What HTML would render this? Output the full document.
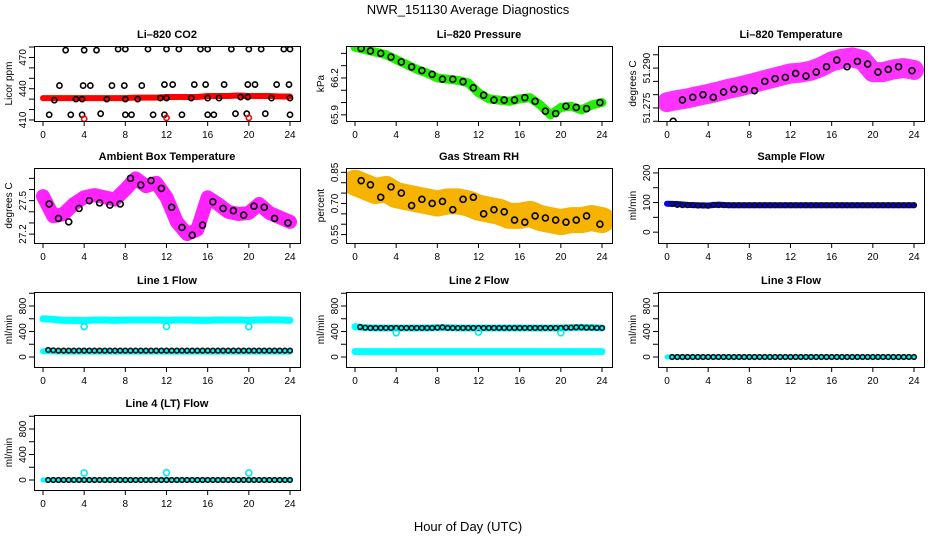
<!DOCTYPE html>
<html><head><meta charset="utf-8"><style>
body{margin:0;background:#fff}
svg{display:block;font-family:"Liberation Sans",sans-serif}
</style></head><body>
<svg id="c" width="936" height="540" viewBox="0 0 936 540">
<text x="468" y="14" text-anchor="middle" font-size="13">NWR_151130  Average Diagnostics</text>
<text x="468" y="531" text-anchor="middle" font-size="13">Hour of Day (UTC)</text>
</svg>
<script>
const hours=[0,1,2,3,4,5,6,7,8,9,10,11,12,13,14,15,16,17,18,19,20,21,22,23,24];
const tDots=[0.6,1.5,2.5,3.5,4.5,5.5,6.5,7.5,8.5,9.5,10.5,11.5,12.5,13.5,14.5,15.5,16.5,17.5,18.5,19.5,20.5,21.5,22.5,23.8];
const tDense=[0.5,1,1.5,2,2.5,3,3.5,4,4.5,5,5.5,6,6.5,7,7.5,8,8.5,9,9.5,10,10.5,11,11.5,12,12.5,13,13.5,14,14.5,15,15.5,16,16.5,17,17.5,18,18.5,19,19.5,20,20.5,21,21.5,22,22.5,23,23.5,24];
const tDips=[4,12,20];
const xTicks=[0,4,8,12,16,20,24];

const co2Band=[431,431,431,431,431,431,431,431,431,431.5,431.5,431.5,432,432,432,432,433,433,433,433.5,433,433,433,432.5,432.5];
const co2TopT=[2.2,4.0,5.2,7.3,8.0,10.2,12.0,13.2,15.3,16.0,18.3,20.0,21.2,23.4,24.0];
const co2TopV=[477,477,477,478,478,478,478,478,478,478,478,478,478,478,478];
const co2MidT=[1.6,3.9,4.6,6.7,7.9,9.6,11.8,12.6,14.7,15.8,17.6,19.9,20.6,22.7,23.9];
const co2MidV=[443,443,443,443,443,443,444,444,444,444,444,444,444,444,444];
const co2LowT=[1.1,3.2,3.8,6.2,8.0,9.2,11.4,12.0,14.4,16.0,17.1,19.2,19.9,22.2,24.0];
const co2LowV=[429,430,430,430,430,430,431,431,431,431,431,432,432,431,431];
const co2BotT=[0.6,2.7,3.8,5.6,8.0,8.6,10.7,11.8,13.5,16.0,16.6,18.7,19.8,21.6,24.0];
const co2BotV=[415,415,415,416,415,415,415,415,415,415,415,416,416,416,415];
const co2Red=[411,412,412];

const presBand=[66.45,66.43,66.41,66.39,66.35,66.31,66.27,66.24,66.2,66.19,66.18,66.16,66.08,66.03,66.02,66.01,66.03,66.04,65.98,65.9,65.96,65.97,65.94,65.98,66.0];
const presDots=[66.44,66.42,66.40,66.37,66.33,66.29,66.26,66.23,66.19,66.19,66.17,66.12,66.06,66.02,66.02,66.02,66.04,66.01,65.93,65.91,65.97,65.96,65.95,66.0];

const ltBand=[51.2772,51.2780,51.2786,51.2795,51.2803,51.2812,51.2822,51.2830,51.2840,51.2850,51.2860,51.2870,51.2880,51.2883,51.2890,51.2905,51.2925,51.2935,51.2940,51.2930,51.2885,51.2885,51.2895,51.2900,51.2893];
const ltDots=[51.2700,51.2780,51.2790,51.2800,51.2790,51.2810,51.2820,51.2820,51.2815,51.2850,51.2860,51.2865,51.2880,51.2870,51.2885,51.2905,51.2930,51.2905,51.2925,51.2915,51.2885,51.2895,51.2905,51.2890];

const ambBand=[27.54,27.36,27.38,27.47,27.53,27.55,27.53,27.51,27.6,27.70,27.63,27.66,27.53,27.31,27.2,27.24,27.53,27.47,27.40,27.38,27.39,27.47,27.39,27.35,27.31];
const ambDots=[27.47,27.34,27.31,27.43,27.50,27.48,27.46,27.47,27.70,27.64,27.68,27.61,27.44,27.26,27.19,27.28,27.49,27.43,27.41,27.37,27.45,27.44,27.34,27.30];

const rhBand=[0.80,0.78,0.76,0.77,0.74,0.73,0.72,0.71,0.70,0.71,0.71,0.70,0.68,0.67,0.66,0.64,0.64,0.65,0.63,0.62,0.61,0.62,0.62,0.63,0.62];
const rhDots=[0.81,0.79,0.73,0.78,0.75,0.69,0.72,0.70,0.71,0.67,0.72,0.73,0.65,0.67,0.66,0.62,0.61,0.64,0.63,0.62,0.61,0.62,0.64,0.60];

const sfBand=[96,95,92,91,90,93,91,91,91,91,91,91,91,91,91,91,91,91,91,91,91,91,91,91,91];
const sfDots=[95,92,91,91,91,90,90,89,92,91,91,91,91,91,91,91,91,91,91,91,91,91,91,91,91,91,91,91,91,91,91,91,91,91,91,91,91,91,91,91,91,91,91,91,91,91,91,91];

const l1Top=[600,590,575,575,570,580,580,575,580,580,580,580,575,580,580,575,575,580,580,580,575,580,585,580,575];
const l1Bot=[90,88,85,85,85,85,85,85,85,85,85,85,85,85,85,85,85,85,85,85,85,85,85,85,85];
const l1Dots=[110,105,100,100,100,100,100,100,100,100,100,100,100,100,100,100,100,100,100,100,100,100,100,100,100,100,100,100,100,100,100,100,100,100,100,100,100,100,100,100,100,100,100,100,100,100,100,100];
const l1Dips=[475,480,475];

const l2Top=[475,460,455,455,455,455,455,455,460,460,455,455,455,455,455,455,455,455,455,455,455,460,465,460,455];
const l2Bot=[85,85,85,85,85,85,85,85,85,85,85,85,85,85,85,85,85,85,85,85,85,85,85,85,85];
const l2Dots=[470,460,455,455,455,455,455,455,455,455,455,455,455,455,455,460,465,455,455,455,455,455,455,455,455,455,455,455,455,455,455,455,455,455,455,455,455,455,455,455,460,460,465,465,460,460,455,455];
const l2Dips=[380,390,380];

const l3Band=[0,0,0,0,0,0,0,0,0,0,0,0,0,0,0,0,0,0,0,0,0,0,0,0,0];
const l3Dots=[0,0,0,0,0,0,0,0,0,0,0,0,0,0,0,0,0,0,0,0,0,0,0,0,0,0,0,0,0,0,0,0,0,0,0,0,0,0,0,0,0,0,0,0,0,0,0,0];
const l4Band=[0,0,0,0,0,0,0,0,0,0,0,0,0,0,0,0,0,0,0,0,0,0,0,0,0];
const l4Dots=[0,0,0,0,0,0,0,0,0,0,0,0,0,0,0,0,0,0,0,0,0,0,0,0,0,0,0,0,0,0,0,0,0,0,0,0,0,0,0,0,0,0,0,0,0,0,0,0];
const l4Dips=[110,115,110];

const svg=document.getElementById('c');
const NS='http://www.w3.org/2000/svg';
function mk(tag,attrs,parent){const e=document.createElementNS(NS,tag);for(const k in attrs)e.setAttribute(k,attrs[k]);(parent||svg).appendChild(e);return e;}
const COLL=[34,346,658], ROWT=[46,168,292,415], W=266, H=75;

function panel(p){
  const L=COLL[p.col],T=ROWT[p.row];
  const g=mk('g',{});
  
  
  const x=h=>L+9+h*247/24;
  const y=v=>T+H-(v-p.ymin)/(p.ymax-p.ymin)*H;
  const t=mk('text',{x:L+W/2,y:T-8,'text-anchor':'middle','font-size':11,'font-weight':'bold'},g);
  t.textContent=p.title;
  
  
  const clip='clip'+p.name;
  const cp=mk('clipPath',{id:clip},g);mk('rect',{x:L,y:T,width:W,height:H},cp);
  const pg=mk('g',{'clip-path':'url(#'+clip+')'},g);
  (p.bands||[]).forEach(b=>{
    const pl=mk('polyline',{points:b.v.map((v,i)=>x(b.t[i])+','+y(v)).join(' '),fill:'none',stroke:b.c,'stroke-width':b.w,'stroke-linejoin':'round','stroke-linecap':'round'},pg);
    
    
    if(b.tex){b.v.forEach((v,i)=>{const c=mk('circle',{cx:x(b.t[i]),cy:y(v),r:b.w/2-1,fill:'none',stroke:b.tex,'stroke-width':1,'stroke-dasharray':'1 2'},pg);
      
      });}
  });
  (p.pts||[]).forEach(s=>{
    s.v.forEach((v,i)=>{
      const c=mk('circle',{cx:x(s.t[i]),cy:y(v),r:s.r||2.6,fill:'none',stroke:s.c,'stroke-width':1.6},pg);
      
      
    });
  });
  const box=mk('rect',{x:L+0.5,y:T+0.5,width:W,height:H,fill:'none',stroke:'#000','stroke-width':1},g);
  
  
  mk('line',{x1:x(0),x2:x(24),y1:T+H+0.5,y2:T+H+0.5,stroke:'#000'},g);
  xTicks.forEach(h=>{
    mk('line',{x1:x(h),x2:x(h),y1:T+H,y2:T+H+5,stroke:'#000'},g);
    const tl=mk('text',{x:x(h),y:T+H+17,'text-anchor':'middle','font-size':10},g);
    tl.textContent=h;
    
    
  });
  mk('line',{x1:L+0.5,x2:L+0.5,y1:y(p.yt[0]),y2:y(p.yt[p.yt.length-1]),stroke:'#000'},g);
  p.yt.forEach(v=>mk('line',{x1:L-5,x2:L,y1:y(v),y2:y(v),stroke:'#000'},g));
  p.yl.forEach(v=>{
    const yy=y(v);
    const tl=mk('text',{x:L-8,y:yy,'text-anchor':'middle','font-size':10,transform:'rotate(-90 '+(L-8)+' '+yy+')'},g);
    tl.textContent=p.fmt?p.fmt(v):v;
    
    
  });
  const yl=mk('text',{x:L-22,y:T+H/2,'text-anchor':'middle','font-size':10,transform:'rotate(-90 '+(L-22)+' '+(T+H/2)+')'},g);
  yl.textContent=p.ylab;
  
  
}

panel({name:'co2',title:'Li\u2013820 CO2',col:0,row:0,ymin:409,ymax:481,yt:[410,420,430,440,450,460,470,480],yl:[410,440,470],ylab:'Licor ppm',
 bands:[{t:hours,v:co2Band,c:'#ff0000',w:6}],
 pts:[{t:co2TopT,v:co2TopV,c:'#000'},{t:co2MidT,v:co2MidV,c:'#000'},{t:co2LowT,v:co2LowV,c:'#000'},{t:co2BotT,v:co2BotV,c:'#000'},{t:tDips,v:co2Red,c:'#ff0000'}]});
panel({name:'pressure',title:'Li\u2013820 Pressure',col:1,row:0,ymin:65.85,ymax:66.46,yt:[65.9,66.0,66.1,66.2,66.3,66.4],yl:[65.9,66.2],ylab:'kPa',fmt:v=>v.toFixed(1),
 bands:[{t:hours,v:presBand,c:'#22ee00',w:9}],pts:[{t:tDots,v:presDots,c:'#000',r:3}]});
panel({name:'li-temp',title:'Li\u2013820 Temperature',col:2,row:0,ymin:51.2701,ymax:51.2983,yt:[51.270,51.275,51.280,51.285,51.290,51.295],yl:[51.275,51.290],ylab:'degrees C',fmt:v=>v.toFixed(3),
 bands:[{t:hours,v:ltBand,c:'#ff33ff',w:20}],pts:[{t:tDots,v:ltDots,c:'#000',r:3}]});
panel({name:'ambient',title:'Ambient Box Temperature',col:0,row:1,ymin:27.12,ymax:27.793,yt:[27.2,27.3,27.4,27.5,27.6,27.7],yl:[27.2,27.5],ylab:'degrees C',fmt:v=>v.toFixed(1),
 bands:[{t:hours,v:ambBand,c:'#ff22ff',w:14}],pts:[{t:tDots,v:ambDots,c:'#000',r:3}]});
panel({name:'gas-rh',title:'Gas Stream RH',col:1,row:1,ymin:0.5095,ymax:0.871,yt:[0.55,0.60,0.65,0.70,0.75,0.80,0.85],yl:[0.55,0.70,0.85],ylab:'percent',fmt:v=>v.toFixed(2),
 bands:[{t:hours,v:rhBand,c:'#f6b400',w:26}],pts:[{t:tDots,v:rhDots,c:'#000',r:3}]});
panel({name:'sample-flow',title:'Sample Flow',col:2,row:1,ymin:-36.7,ymax:216.7,yt:[0,50,100,150,200],yl:[0,100,200],ylab:'ml/min',
 bands:[{t:hours,v:sfBand,c:'#0000ff',w:6}],pts:[{t:tDense,v:sfDots,c:'#111',r:2.3}]});
panel({name:'line1-flow',title:'Line 1 Flow',col:0,row:2,ymin:-156.9,ymax:1019.6,yt:[0,200,400,600,800,1000],yl:[0,400,800],ylab:'ml/min',
 bands:[{t:hours,v:l1Top,c:'#00ffff',w:7},{t:hours,v:l1Bot,c:'#00ffff',w:6}],pts:[{t:tDense,v:l1Dots,c:'#111',r:2.3},{t:tDips,v:l1Dips,c:'#00eeee',r:3}]});
panel({name:'line2-flow',title:'Line 2 Flow',col:1,row:2,ymin:-156.9,ymax:1019.6,yt:[0,200,400,600,800,1000],yl:[0,400,800],ylab:'ml/min',
 bands:[{t:hours,v:l2Top,c:'#00ffff',w:7},{t:hours,v:l2Bot,c:'#00ffff',w:7}],pts:[{t:tDense,v:l2Dots,c:'#111',r:2.3},{t:tDips,v:l2Dips,c:'#00eeee',r:3}]});
panel({name:'line3-flow',title:'Line 3 Flow',col:2,row:2,ymin:-156.9,ymax:1019.6,yt:[0,200,400,600,800,1000],yl:[0,400,800],ylab:'ml/min',
 bands:[{t:hours,v:l3Band,c:'#00ffff',w:5}],pts:[{t:tDense,v:l3Dots,c:'#111',r:2.3}]});
panel({name:'line4-flow',title:'Line 4 (LT) Flow',col:0,row:3,ymin:-156.9,ymax:1019.6,yt:[0,200,400,600,800,1000],yl:[0,400,800],ylab:'ml/min',
 bands:[{t:hours,v:l4Band,c:'#00ffff',w:5}],pts:[{t:tDense,v:l4Dots,c:'#111',r:2.3},{t:tDips,v:l4Dips,c:'#00eeee',r:3}]});
</script>
</body></html>
